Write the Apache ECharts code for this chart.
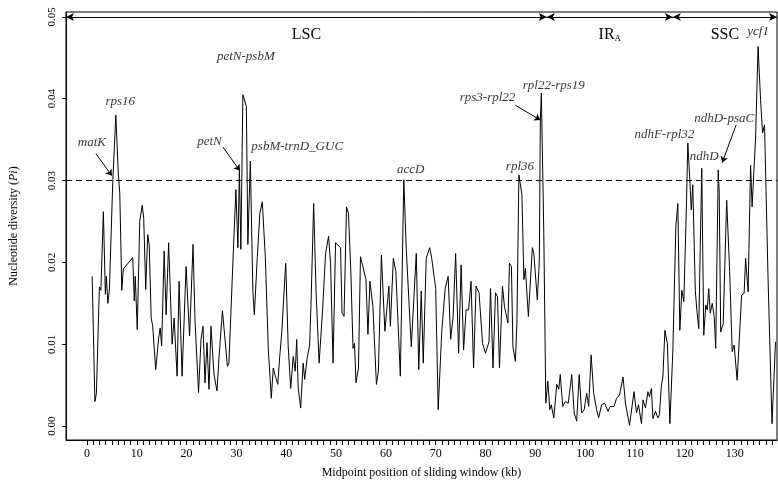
<!DOCTYPE html>
<html><head><meta charset="utf-8">
<script src="https://cdn.jsdelivr.net/npm/echarts@6/dist/echarts.min.js"></script>
<style>html,body{margin:0;padding:0;background:#fff}#c{width:778px;height:488px}</style>
</head><body><div id="c"></div>
<script>
const positions = [1.05,1.6,1.9,2.5,2.8,3.3,3.7,3.9,4.2,4.5,5.2,5.8,6.3,6.6,7.0,7.3,9.2,9.5,9.7,10.1,10.6,11.1,11.4,11.8,12.2,12.5,12.9,13.2,13.8,14.4,14.7,15.0,15.5,15.9,16.4,17.1,17.5,18.1,18.5,19.1,19.9,20.6,21.3,21.7,22.4,22.9,23.3,23.7,24.1,24.5,24.9,25.5,26.1,26.5,27.2,27.6,28.2,28.5,29.4,29.9,30.3,30.6,30.9,31.3,32.0,32.3,32.8,33.3,
33.6,34.2,34.7,35.2,35.8,36.4,37.0,37.4,37.9,38.3,38.7,39.1,39.9,40.4,40.9,41.4,41.8,42.1,42.4,42.9,43.4,43.7,44.2,44.7,45.0,45.5,46.0,46.6,47.3,47.9,48.5,48.9,49.4,49.9,50.9,51.2,51.6,52.1,52.5,53.0,53.4,53.7,54.0,54.5,54.9,55.3,56.0,56.4,56.8,57.4,58.1,58.5,59.1,59.5,59.8,60.1,60.6,60.9,61.5,62.0,62.9,63.6,64.1,65.1,66.1,66.6,67.1,67.5,68.1,68.8,
69.2,70.0,70.5,71.2,71.9,72.5,73.0,73.5,74.0,74.6,75.1,75.6,76.1,76.6,77.1,77.6,78.1,78.7,79.4,80.0,80.7,81.0,81.5,82.0,82.4,82.8,83.4,83.8,84.5,84.8,85.2,85.5,86.0,86.3,86.7,87.3,87.7,88.0,88.6,89.4,89.7,90.4,90.8,91.0,91.2,91.7,92.1,92.5,92.9,93.2,93.7,94.3,94.7,95.0,95.5,96.0,96.6,97.3,97.8,98.3,98.8,99.3,99.8,100.3,100.7,101.2,101.7,102.3,102.7,103.3,103.9,104.6,
105.0,105.8,106.3,106.9,107.6,108.1,108.9,109.3,109.8,110.3,110.7,111.3,111.6,112.1,112.6,112.9,113.3,113.6,114.1,114.6,114.9,115.3,115.6,116.0,116.5,117.0,117.6,118.2,118.6,119.0,119.4,119.8,120.3,120.6,121.0,121.3,121.6,122.1,122.4,122.8,123.1,123.4,123.8,124.2,124.5,124.8,125.1,125.5,125.9,126.2,126.7,126.9,127.2,127.7,128.4,129.0,129.5,129.9,130.5,131.4,131.9,132.2,132.7,133.2,133.5,134.2,134.7,135.2,135.6,136.0,136.7,137.5,138.2];
const pi = [0.0183,0.0030,0.0040,0.0170,0.0166,0.0262,0.0161,0.0183,0.0150,0.0166,0.0301,0.0380,0.0308,0.0284,0.0166,0.0192,0.0206,0.0153,0.0183,0.0118,0.0250,0.0270,0.0254,0.0167,0.0234,0.0222,0.0132,0.0122,0.0069,0.0108,0.0120,0.0098,0.0214,0.0136,0.0224,0.0100,0.0132,0.0061,0.0177,0.0061,0.0195,0.0110,0.0222,0.0128,0.0041,0.0106,0.0122,0.0053,0.0102,0.0045,0.0122,0.0063,0.0043,0.0083,0.0141,0.0140,0.0073,0.0077,0.0216,0.0289,0.0218,0.0312,0.0216,0.0405,0.0391,0.0222,0.0324,0.0166,
0.0136,0.0207,0.0260,0.0274,0.0207,0.0095,0.0034,0.0071,0.0059,0.0051,0.0085,0.0114,0.0199,0.0097,0.0046,0.0085,0.0067,0.0106,0.0047,0.0022,0.0077,0.0057,0.0083,0.0099,0.0154,0.0272,0.0163,0.0077,0.0142,0.0211,0.0232,0.0199,0.0077,0.0224,0.0218,0.0138,0.0134,0.0268,0.0260,0.0183,0.0095,0.0101,0.0053,0.0071,0.0207,0.0197,0.0179,0.0112,0.0177,0.0146,0.0051,0.0067,0.0209,0.0211,0.0116,0.0118,0.0171,0.0122,0.0205,0.0189,0.0061,0.0301,0.0215,0.0097,0.0211,0.0069,0.0165,0.0077,0.0205,0.0218,
0.0205,0.0168,0.0020,0.0114,0.0168,0.0183,0.0106,0.0134,0.0211,0.0089,0.0197,0.0093,0.0142,0.0142,0.0177,0.0071,0.0171,0.0163,0.0101,0.0089,0.0103,0.0168,0.0071,0.0163,0.0158,0.0071,0.0171,0.0146,0.0126,0.0199,0.0195,0.0097,0.0079,0.0126,0.0307,0.0283,0.0179,0.0193,0.0134,0.0218,0.0211,0.0154,0.0203,0.0374,0.0407,0.0234,0.0028,0.0055,0.0020,0.0026,0.0010,0.0051,0.0045,0.0063,0.0024,0.0030,0.0028,0.0063,0.0016,0.0006,0.0063,0.0016,0.0020,0.0040,0.0024,0.0087,0.0040,0.0020,0.0010,0.0026,0.0028,0.0018,
0.0024,0.0024,0.0034,0.0038,0.0060,0.0027,0.0001,0.0003,0.0042,0.0016,0.0026,0.0003,0.0032,0.0022,0.0042,0.0036,0.0046,0.0009,0.0018,0.0010,0.0014,0.0050,0.0060,0.0117,0.0101,0.0003,0.0093,0.0244,0.0272,0.0117,0.0166,0.0152,0.0264,0.0346,0.0301,0.0264,0.0295,0.0166,0.0142,0.0119,0.0221,0.0315,0.0111,0.0148,0.0142,0.0168,0.0138,0.0150,0.0134,0.0095,0.0313,0.0285,0.0115,0.0125,0.0276,0.0189,0.0091,0.0099,0.0056,0.0160,0.0162,0.0205,0.0164,0.0319,0.0268,0.0352,0.0464,0.0399,0.0358,0.0368,0.0181,0.0003,0.0103];
const xTickLabels = [0,10,20,30,40,50,60,70,80,90,100,110,120,130];
const yTickLabels = [0,0.01,0.02,0.03,0.04,0.05];
const threshold = 0.03;
const regions = [{name:'LSC',from:-4.2,to:92.3},{name:'IRA',from:92.3,to:117.6},{name:'SSC',from:117.6,to:138.5}];
const geneLabels = [
 ['matK',1.0,0.0346],['rps16',6.7,0.0396],['petN',24.6,0.0348],['petN-psbM',31.9,0.0451],
 ['psbM-trnD_GUC',42.2,0.0341],['accD',65.0,0.0313],['rpl36',86.9,0.0317],['rps3-rpl22',80.4,0.0401],
 ['rpl22-rps19',93.7,0.0416],['ndhF-rpl32',115.9,0.0356],['ndhD',123.9,0.0329],['ndhD-psaC',127.9,0.0376],['ycf1',134.7,0.0482]];
const geneArrows = [[[1.8,0.0333],[5.0,0.0306]],[[27.3,0.0341],[30.7,0.0312]],[[86.0,0.0392],[91.0,0.0374]],[[130.3,0.0368],[127.5,0.0322]]];

const minorTicks=[];for(let v=0;v<=138;v+=1.25)minorTicks.push(v);
const F='Liberation Serif';
const chart=echarts.init(document.getElementById('c'));
const lineData=positions.map((p,i)=>[p,pi[i]]);
chart.setOption({
 animation:false,
 grid:{left:62,right:1,top:12,bottom:48,show:true,borderColor:'#000',borderWidth:1},
 xAxis:{type:'value',min:-4.2,max:138.5,
  name:'Midpoint position of sliding window (kb)',nameLocation:'middle',nameGap:27,
  nameTextStyle:{fontFamily:F,fontSize:12,color:'#000'},
  axisLine:{onZero:false,lineStyle:{color:'#000'}},splitLine:{show:false},
  axisTick:{customValues:minorTicks,length:5,lineStyle:{color:'#000'}},
  axisLabel:{customValues:xTickLabels,fontFamily:F,fontSize:12,color:'#000',margin:8}},
 yAxis:{type:'value',min:-0.0017,max:0.0506,
  name:'{n|Nucleotide diversity (}{i|Pi}{n|)}',nameLocation:'middle',nameGap:46,
  nameTextStyle:{rich:{n:{fontFamily:F,fontSize:12,color:'#000'},i:{fontFamily:F,fontSize:12,fontStyle:'italic',color:'#000'}}},
  axisLine:{show:true,onZero:false,lineStyle:{color:'#000'}},splitLine:{show:false},
  axisTick:{show:true,customValues:yTickLabels,length:4,lineStyle:{color:'#000'}},
  axisLabel:{customValues:yTickLabels,rotate:90,fontFamily:F,fontSize:11,color:'#000',formatter:v=>v.toFixed(2)}},
 series:[{type:'line',data:lineData,showSymbol:false,lineStyle:{color:'#000',width:1},
  markLine:{silent:true,symbol:'none',label:{show:false},
   data:[{yAxis:threshold,lineStyle:{type:[6,4],color:'#000',width:1}}]}},
  {type:'line',data:[],markLine:{silent:true,symbol:['arrow','arrow'],symbolSize:[6,8],
   lineStyle:{color:'#000',width:1,type:'solid'},
   label:{show:true,position:'middle',distance:-26,fontFamily:F,fontSize:16,color:'#000',
    formatter:p=>p.name==='IRA'?'{a|IR}{s|A}':p.name,rich:{a:{fontFamily:F,fontSize:16,color:'#000'},s:{fontFamily:F,fontSize:9,color:'#000',verticalAlign:'bottom',padding:[8,0,0,0]}}},
   data:regions.map(r=>[{coord:[r.from,0.05],name:r.name},{coord:[r.to,0.05]}])}},
  {type:'line',data:[],markLine:{silent:true,symbol:['none','arrow'],symbolSize:6,label:{show:false},
   lineStyle:{color:'#000',width:1,type:'solid'},
   data:geneArrows.map(a=>[{coord:a[0]},{coord:a[1]}])}},
  {type:'scatter',data:geneLabels.map(g=>({value:[g[1],g[2]],name:g[0]})),symbolSize:0,
   label:{show:true,position:'inside',formatter:p=>p.name,fontFamily:F,fontStyle:'italic',fontSize:13,color:'#000'}}
 ]});
</script></body></html>
